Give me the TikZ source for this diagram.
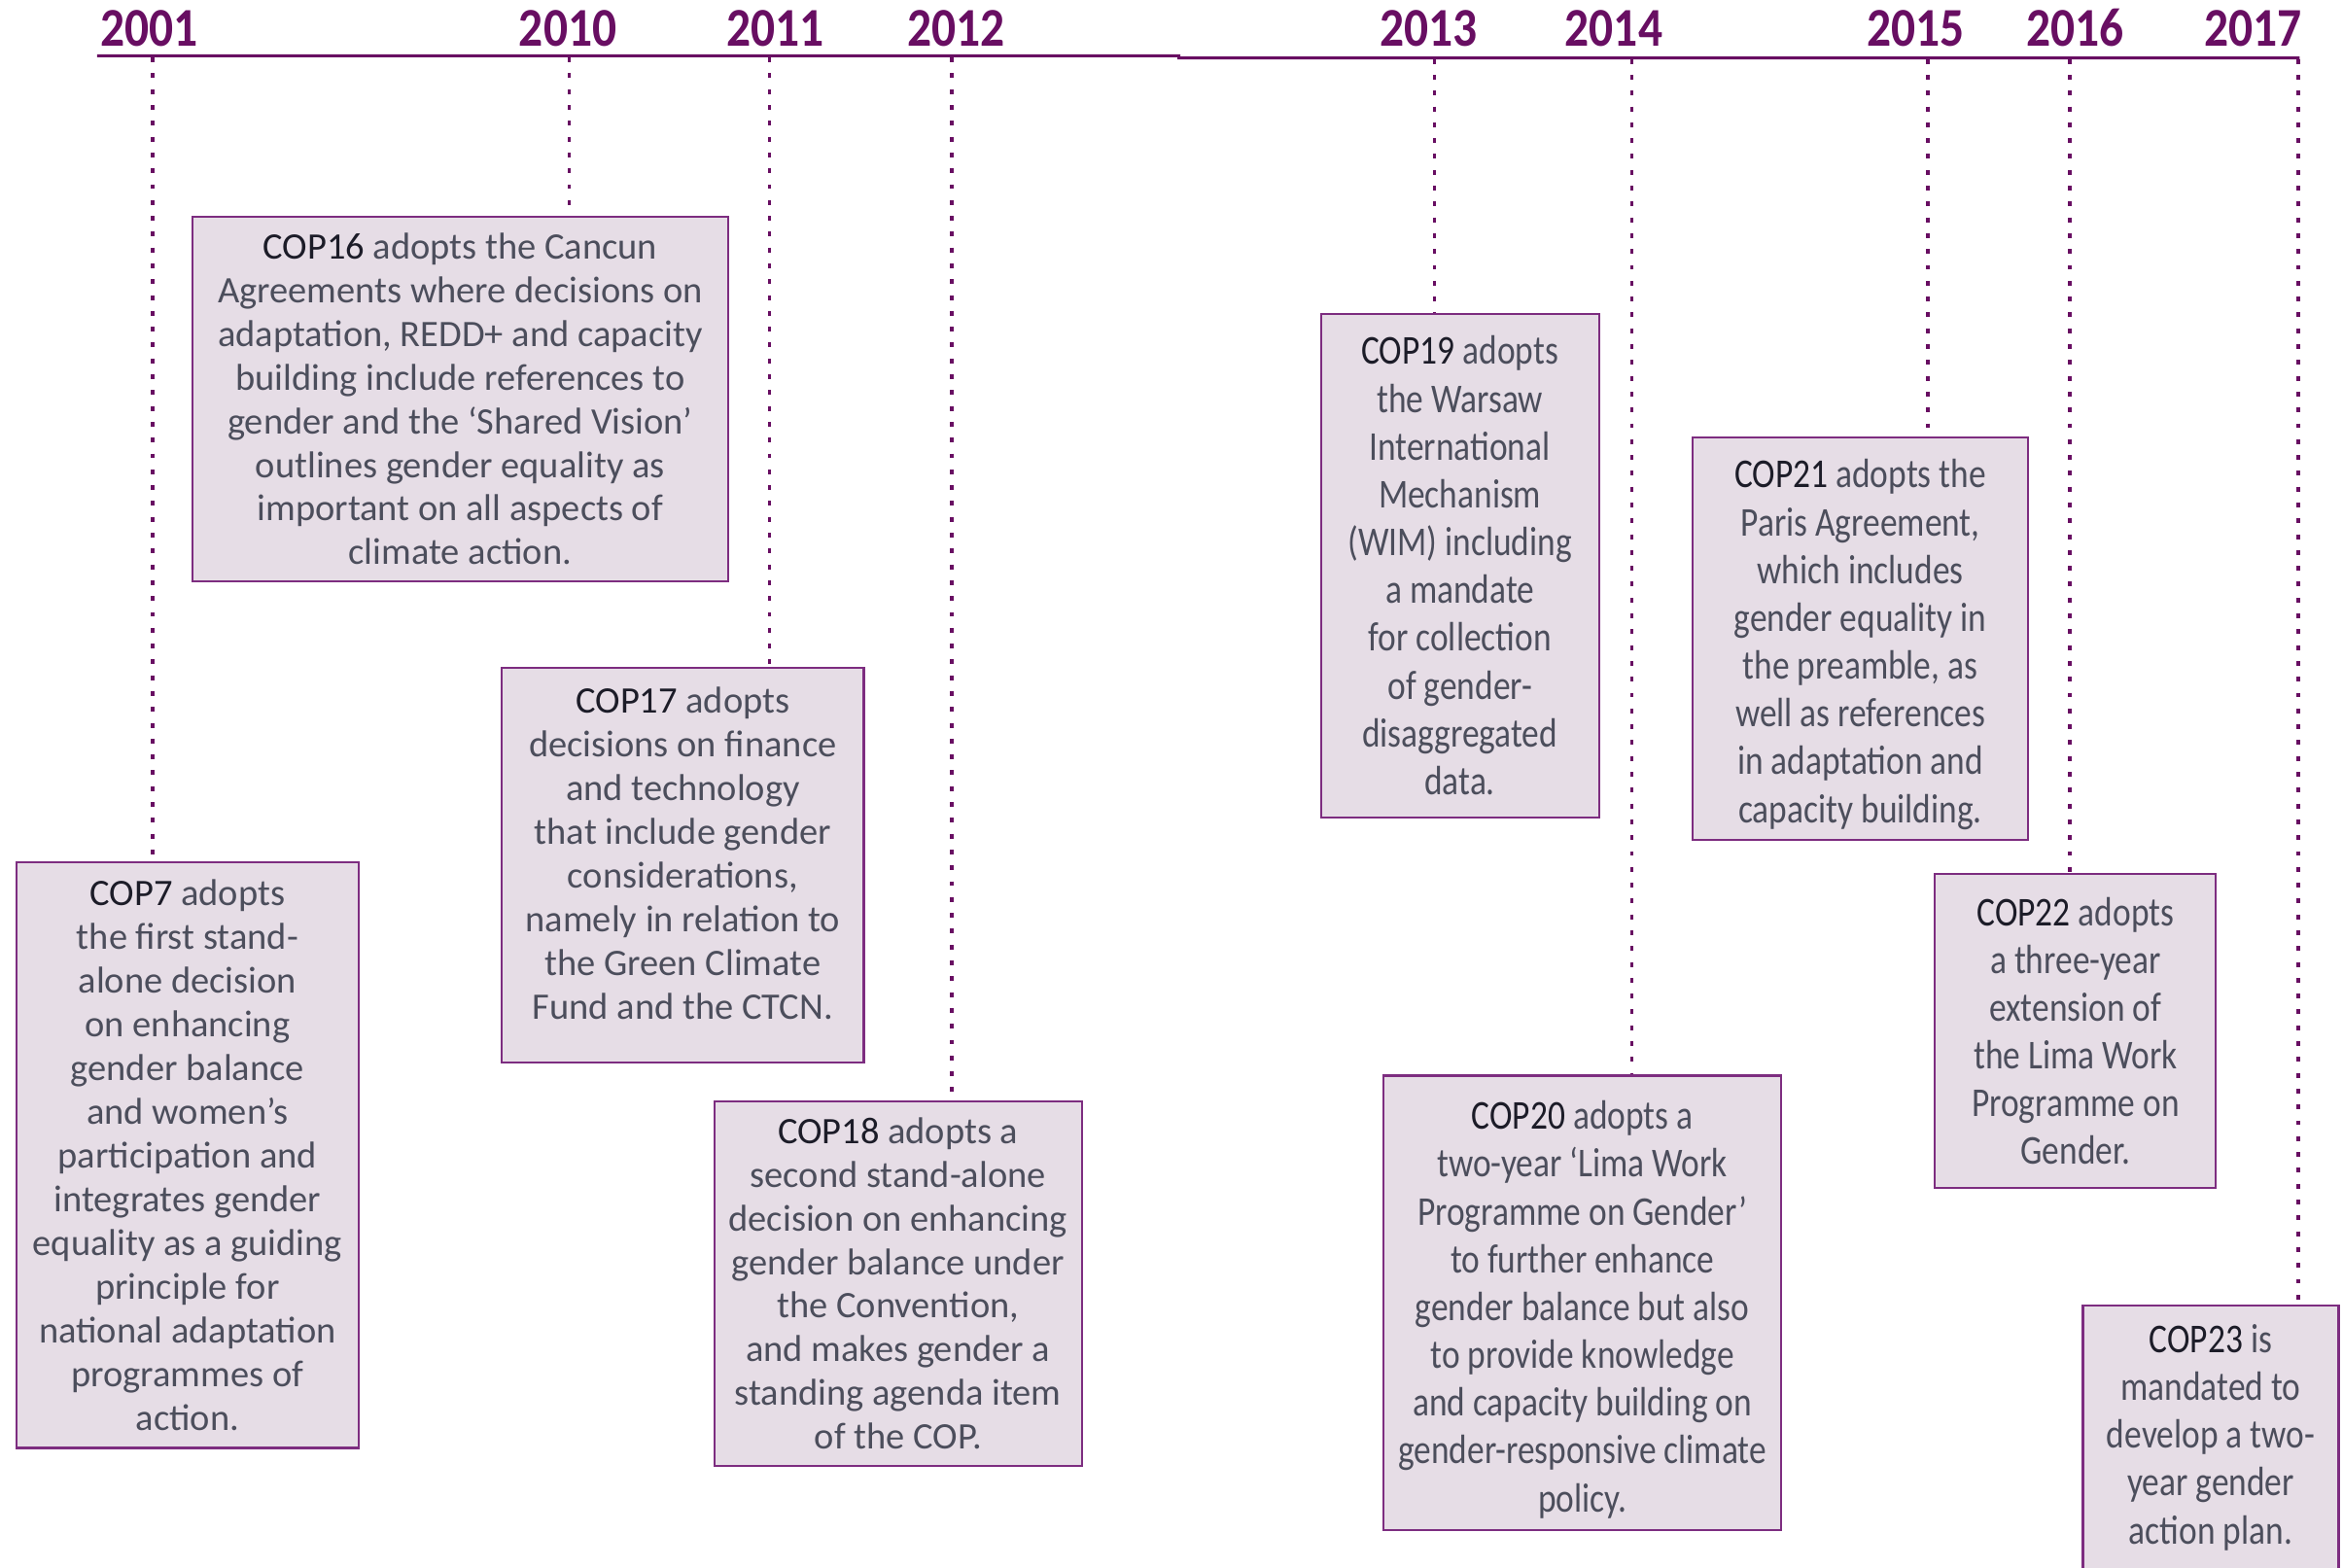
\documentclass[tikz,border=0pt]{standalone}
\usepackage{fontspec}
\setmainfont{Carlito}
\newfontfamily\condfont[FakeStretch=0.84]{Carlito}
\newfontfamily\yearfont[FakeStretch=0.88]{Carlito}
\usetikzlibrary{positioning,calc}
\definecolor{tlpurple}{RGB}{104,14,98}
\definecolor{boxedge}{RGB}{125,45,128}
\definecolor{boxfill}{RGB}{230,221,230}
\definecolor{boxtext}{RGB}{76,78,92}
\definecolor{copdark}{RGB}{28,28,40}
\newcommand{\copname}[1]{\textcolor{copdark}{COP#1}}
\tikzset{
  timeline/.style={line width=1.4pt, tlpurple},
  dotline/.style={line width=1.7pt, tlpurple, dash pattern=on 0.08cm off 0.185cm},
  yearlabel/.style={font=\yearfont\bfseries\fontsize{26}{26}\selectfont, text=tlpurple, inner sep=0pt, anchor=base},
  eventbox/.style={draw=boxedge, line width=1pt, fill=boxfill, text=boxtext, align=center, inner sep=0pt,
    font=\fontsize{17.8}{20.8}\selectfont},
  eventboxc/.style={eventbox, font=\condfont\fontsize{19.5}{22.75}\selectfont}
}

\begin{document}
\begin{tikzpicture}[x=0.025cm, y=-0.025cm]
      \useasboundingbox (0,0) rectangle (1568,1049);
      \clip (0,0) rectangle (1568,1049);
      % years along the top
      \node[yearlabel] (y2001) at (100,31) {2001};
      \node[yearlabel] (y2010) at (380,31) {2010};
      \node[yearlabel] (y2011) at (519,31) {2011};
      \node[yearlabel] (y2012) at (640,31) {2012};
      \node[yearlabel] (y2013) at (956,31) {2013};
      \node[yearlabel] (y2014) at (1080,31) {2014};
      \node[yearlabel] (y2015) at (1282,31) {2015};
      \node[yearlabel] (y2016) at (1389,31) {2016};
      \node[yearlabel] (y2017) at (1508,31) {2017};
      \coordinate (tlstart) at (65,37.3);
      \coordinate (tlstep) at (789,37.3);
      \coordinate (tlend) at (1539,38.8);
      \draw[timeline] (tlstart) -- (tlstep) -- ++(0,1.5) -- (tlend);
      % tick points on the line
      \coordinate (t2001) at (102,38.5);
      \coordinate (t2010) at (381,38.5);
      \coordinate (t2011) at (515,38.5);
      \coordinate (t2012) at (637,38.5);
      \coordinate (t2013) at (960,39.5);
      \coordinate (t2014) at (1092,39.5);
      \coordinate (t2015) at (1290,39.5);
      \coordinate (t2016) at (1385,39.5);
      \coordinate (t2017) at (1538,39.5);
      % events
      \node[eventbox, minimum width=5.725cm, minimum height=9.8cm] (c7) at (125.5,773)
        {\copname{7} adopts\\the first stand-\\alone decision\\on enhancing\\gender balance\\and women’s\\participation and\\integrates gender\\equality as a guiding\\principle for\\national adaptation\\programmes of\\action.};
      \node[eventbox, minimum width=8.95cm, minimum height=6.1cm] (c16) at (308,267)
        {\copname{16} adopts the Cancun\\Agreements where decisions on\\adaptation, REDD+ and capacity\\building include references to\\gender and the ‘Shared Vision’\\outlines gender equality as\\important on all aspects of\\climate action.};
      \node[eventbox, minimum width=6.05cm, minimum height=6.6cm] (c17) at (457,579)
        {\copname{17} adopts\\decisions on finance\\and technology\\that include gender\\considerations,\\namely in relation to\\the Green Climate\\Fund and the CTCN.\\[-9.4pt]\mbox{}};
      \node[eventbox, minimum width=6.15cm, minimum height=6.1cm] (c18) at (601,859)
        {\copname{18} adopts a\\second stand-alone\\decision on enhancing\\gender balance under\\the Convention,\\and makes gender a\\standing agenda item\\of the COP.};
      \node[eventboxc, minimum width=4.65cm, minimum height=8.425cm] (c19) at (977,378.5)
        {\copname{19} adopts\\the Warsaw\\International\\Mechanism\\(WIM) including\\a mandate\\for collection\\of gender-\\disaggregated\\data.};
      \node[eventboxc, minimum width=6.65cm, minimum height=7.6cm] (c20) at (1059,872)
        {\raisebox{0pt}[20pt][0pt]{\copname{20} adopts a}\\two-year ‘Lima Work\\Programme on Gender’\\to further enhance\\gender balance but also\\to provide knowledge\\and capacity building on\\gender-responsive climate\\policy.};
      \node[eventboxc, minimum width=5.6cm, minimum height=6.725cm] (c21) at (1245,427.5)
        {\raisebox{0pt}[19pt][0pt]{\copname{21} adopts the}\\Paris Agreement,\\which includes\\gender equality in\\the preamble, as\\well as references\\in adaptation and\\capacity building.};
      \node[eventboxc, minimum width=4.7cm, minimum height=5.25cm] (c22) at (1389,690)
        {\copname{22} adopts\\a three-year\\extension of\\the Lima Work\\Programme on\\Gender.};
      \node[eventboxc, minimum width=4.275cm, minimum height=4.4cm] (c23) at (1479.5,962)
        {\copname{23} is\\mandated to\\develop a two-\\year gender\\action plan.};
      % dotted drops from the years
      \draw[dotline] (t2001) -- (t2001 |- c7.north);
      \draw[dotline] (t2010) -- (t2010 |- c16.north);
      \draw[dotline] (t2011) -- (t2011 |- c17.north);
      \draw[dotline] (t2012) -- (t2012 |- c18.north);
      \draw[dotline] (t2013) -- (t2013 |- c19.north);
      \draw[dotline] (t2014) -- (t2014 |- c20.north);
      \draw[dotline] (t2015) -- (t2015 |- c21.north);
      \draw[dotline] (t2016) -- (t2016 |- c22.north);
      \draw[dotline] (t2017) -- (t2017 |- c23.north);
    \end{tikzpicture}
\end{document}
